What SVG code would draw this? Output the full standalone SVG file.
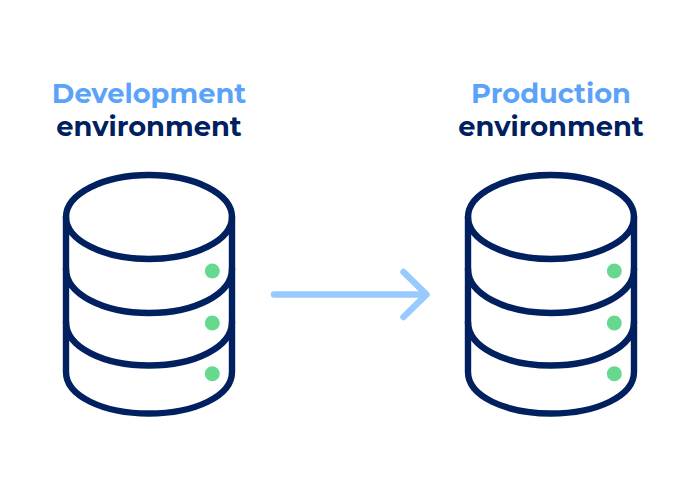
<svg xmlns="http://www.w3.org/2000/svg" width="700" height="500" viewBox="0 0 700 500">
<style>
.t{font-family:Montserrat,"Inter","Liberation Sans",sans-serif;font-weight:700;font-size:27.3px;text-anchor:middle}
.a{fill:#5ba3f8}.b{fill:#00205f}
.s{fill:none;stroke:#00205f;stroke-width:6.4;stroke-linecap:round;stroke-linejoin:round}
.d{fill:#66d98e}
</style>
<defs>
<g id="db">
<ellipse class="s" cx="149" cy="217" rx="83" ry="42"/>
<path class="s" d="M66 217V372C66 396 103 413.5 149 413.5S232 396 232 372V217"/>
<path class="s" d="M66 269C66 294 103 313 149 313S232 294 232 269"/>
<path class="s" d="M66 322C66 347 103 365.500 149 365.500S232 347 232 322"/>
<circle class="d" cx="212.300" cy="271" r="7.500"/>
<circle class="d" cx="212.300" cy="323" r="7.500"/>
<circle class="d" cx="212.300" cy="373.700" r="7.500"/>
</g>
</defs>
<rect width="700" height="500" fill="#fff"/>
<g id="dev">
<text class="t a" x="149" y="102.500">Development</text>
<text class="t b" x="149" y="136">environment</text>
<use href="#db"/>
</g>
<g id="prod">
<text class="t a" x="551" y="102.500">Production</text>
<text class="t b" x="551" y="136">environment</text>
<use href="#db" x="402"/>
</g>
<g id="connectors" fill="none" stroke="#98c9ff" stroke-width="6.500" stroke-linecap="round" stroke-linejoin="round">
<path d="M274 294.500H426M403.500 272L426.500 294.500L403.500 317"/>
</g>
</svg>
